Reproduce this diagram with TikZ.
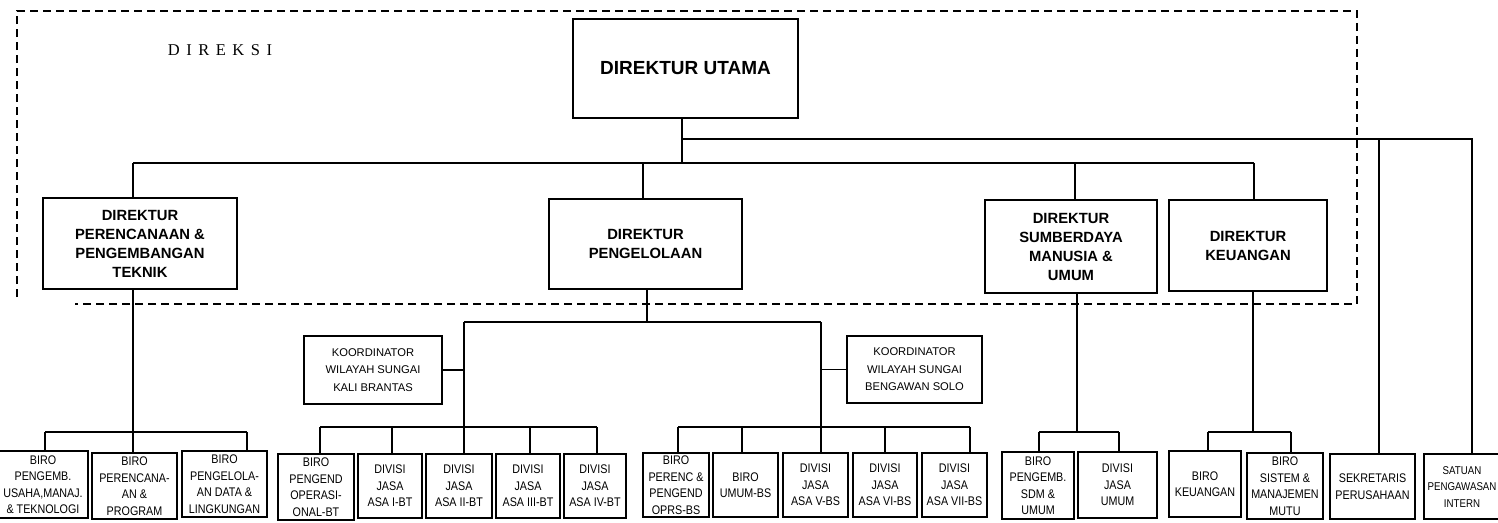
\documentclass[tikz,border=0pt]{standalone}
\usepackage{fontspec}
\setmainfont{Liberation Sans}
\newfontfamily\direksifont{Liberation Serif}
\newfontfamily\narrowfont[FakeStretch=0.86]{Liberation Sans}

% box given by its corners: name, style, x1, y1, x2, y2, text
\newcommand{\orgnode}[7]{%
  \node[#2, minimum width={(#5-#3)*1pt}, minimum height={(#6-#4)*1pt}]
    (#1) at ({(#3+#5)/2},{(#4+#6)/2}) {#7};}

\tikzset{
  orgbox/.style={draw, line width=1.4pt, inner sep=0pt, align=center},
  topbox/.style={orgbox, font=\fontsize{19pt}{23pt}\selectfont\bfseries},
  dirbox/.style={orgbox, font=\fontsize{14.8pt}{19pt}\selectfont\bfseries},
  koorbox/.style={orgbox, font=\fontsize{11.2pt}{17.5pt}\selectfont},
  unitfont/.style={font=\narrowfont\fontsize{12.5pt}{16.5pt}\selectfont},
  unitbox/.style={orgbox, unitfont},
  link/.style={line width=1.3pt},
  dashframe/.style={line width=1.4pt, dash pattern=on 8pt off 5pt}
}

\begin{document}
\begin{tikzpicture}[x=1pt, y=-1pt]
\useasboundingbox (0,0) rectangle (1498,522);
\begin{scope}
\clip (0,0) rectangle (1498,522);

% board of directors frame
\draw[dashframe] (17,297) -- (17,11) -- (1357,11) -- (1357,304) -- (75,304);
\node[font=\direksifont\fontsize{16.5pt}{20pt}\selectfont] (direksi) at (220,50)
  {D\hspace{6.5pt}I\hspace{6.5pt}R\hspace{6.5pt}E\hspace{6.5pt}K\hspace{6.5pt}S\hspace{6.5pt}I};

% directors
\orgnode{du}{topbox}{573}{19}{798}{118}{DIREKTUR UTAMA}
\orgnode{dp}{dirbox}{43}{198}{237}{289}{DIREKTUR\\PERENCANAAN \&\\PENGEMBANGAN\\TEKNIK}
\orgnode{dpl}{dirbox}{549}{199}{742}{289}{DIREKTUR\\PENGELOLAAN}
\orgnode{dsdm}{dirbox}{985}{200}{1157}{293}{DIREKTUR\\SUMBERDAYA\\MANUSIA \&\\UMUM}
\orgnode{dk}{dirbox}{1169}{200}{1327}{291}{DIREKTUR\\KEUANGAN}

% river basin coordinators
\orgnode{kb}{koorbox}{304}{336}{442}{404}{KOORDINATOR\\WILAYAH SUNGAI\\KALI BRANTAS}
\orgnode{kbs}{koorbox}{847}{336}{982}{403}{KOORDINATOR\\WILAYAH SUNGAI\\BENGAWAN SOLO}

% bureaus and divisions
\orgnode{b1}{unitbox}{-2}{451}{88}{518}{BIRO\\PENGEMB.\\USAHA,MANAJ.\\\& TEKNOLOGI}
\orgnode{b2}{unitbox}{92}{453}{177}{519}{BIRO\\PERENCANA-\\AN \&\\PROGRAM}
\orgnode{b3}{unitbox}{182}{451}{267}{517}{BIRO\\PENGELOLA-\\AN DATA \&\\LINGKUNGAN}
\orgnode{b4}{unitbox}{278}{454}{354}{520}{BIRO\\PENGEND\\OPERASI-\\ONAL-BT}
\orgnode{b5}{unitbox}{358}{454}{422}{518}{DIVISI\\JASA\\ASA I-BT}
\orgnode{b6}{unitbox}{426}{454}{492}{518}{DIVISI\\JASA\\ASA II-BT}
\orgnode{b7}{unitbox}{496}{454}{560}{518}{DIVISI\\JASA\\ASA III-BT}
\orgnode{b8}{unitbox}{564}{454}{626}{518}{DIVISI\\JASA\\ASA IV-BT}
\orgnode{b9}{unitbox}{643}{453}{709}{517}{BIRO\\PERENC \&\\PENGEND\\OPRS-BS}
\orgnode{b10}{unitbox}{713}{453}{778}{517}{BIRO\\UMUM-BS}
\orgnode{b11}{unitbox}{783}{453}{848}{517}{DIVISI\\JASA\\ASA V-BS}
\orgnode{b12}{unitbox}{853}{453}{917}{517}{DIVISI\\JASA\\ASA VI-BS}
\orgnode{b13}{unitbox}{922}{453}{987}{517}{DIVISI\\JASA\\ASA VII-BS}
\orgnode{b14}{unitbox}{1002}{452}{1074}{519}{BIRO\\PENGEMB.\\SDM \&\\UMUM}
\orgnode{b15}{unitbox}{1078}{452}{1157}{518}{DIVISI\\JASA\\UMUM}
\orgnode{b16}{unitbox}{1169}{451}{1241}{517}{BIRO\\KEUANGAN}
\orgnode{b17}{unitbox}{1247}{453}{1323}{519}{BIRO\\SISTEM \&\\MANAJEMEN\\MUTU}
\orgnode{sek}{unitbox}{1330}{454}{1415}{519}{SEKRETARIS\\PERUSAHAAN}
% internal audit unit: its box runs past the right margin
\orgnode{sat}{unitbox}{1424}{454}{1512}{519}{}
\node[font=\narrowfont\fontsize{11.3pt}{16.5pt}\selectfont, align=center, inner sep=0pt]
  (satText) at (1462,487) {SATUAN\\PENGAWASAN\\INTERN};

% junction points
\coordinate (jTop) at (682,139);
\coordinate (jMain) at (682,163);
\coordinate (sekT) at (1379,139);
\coordinate (satT) at (1472,139);
\coordinate (mL) at (133,163);
\coordinate (mP) at (643,163);
\coordinate (mS) at (1075,163);
\coordinate (mR) at (1254,163);

% top level
\draw[link] (du.south -| jMain) -- (jMain);
\draw[link] (jTop) -- (satT) -- (satT |- sat.north);
\draw[link] (sekT) -- (sekT |- sek.north);
\draw[link] (mL) -- (mR);
\draw[link] (mL) -- (mL |- dp.north);
\draw[link] (mP) -- (mP |- dpl.north);
\draw[link] (mS) -- (mS |- dsdm.north);
\draw[link] (mR) -- (mR |- dk.north);

% planning and engineering
\coordinate (pa) at (45,432);
\coordinate (pb) at (133,432);
\coordinate (pc) at (247,432);
\draw[link] (dp.south -| pb) -- (pb);
\draw[link] (pa) -- (pc);
\draw[link] (pa) -- (pa |- b1.north);
\draw[link] (pb) -- (pb |- b2.north);
\draw[link] (pc) -- (pc |- b3.north);

% operations
\coordinate (gT) at (647,322);
\coordinate (gL) at (464,322);
\coordinate (gR) at (821,322);
\draw[link] (dpl.south -| gT) -- (gT);
\draw[link] (gL) -- (gR);
\draw[link] (gL) -- (gL |- b6.north);
\draw[link] (gR) -- (gR |- b11.north);
\draw[link] (kb.east) -- (kb.east -| gL);
\draw[link] (kbs.west) -- (kbs.west -| gR);

% Brantas units
\coordinate (t1) at (320,427);
\coordinate (t2) at (392,427);
\coordinate (t4) at (530,427);
\coordinate (t5) at (597,427);
\draw[link] (t1) -- (t5);
\draw[link] (t1) -- (t1 |- b4.north);
\draw[link] (t2) -- (t2 |- b5.north);
\draw[link] (t4) -- (t4 |- b7.north);
\draw[link] (t5) -- (t5 |- b8.north);

% Bengawan Solo units
\coordinate (s1) at (678,427);
\coordinate (s2) at (742,427);
\coordinate (s4) at (885,427);
\coordinate (s5) at (970,427);
\draw[link] (s1) -- (s5);
\draw[link] (s1) -- (s1 |- b9.north);
\draw[link] (s2) -- (s2 |- b10.north);
\draw[link] (s4) -- (s4 |- b12.north);
\draw[link] (s5) -- (s5 |- b13.north);

% human resources
\coordinate (hB) at (1077,432);
\coordinate (hL) at (1039,432);
\coordinate (hR) at (1119,432);
\draw[link] (dsdm.south -| hB) -- (hB);
\draw[link] (hL) -- (hR);
\draw[link] (hL) -- (hL |- b14.north);
\draw[link] (hR) -- (hR |- b15.north);

% finance
\coordinate (kB) at (1253,432);
\coordinate (kL) at (1208,432);
\coordinate (kR) at (1291,432);
\draw[link] (dk.south -| kB) -- (kB);
\draw[link] (kL) -- (kR);
\draw[link] (kL) -- (kL |- b16.north);
\draw[link] (kR) -- (kR |- b17.north);
\end{scope}
\end{tikzpicture}
\end{document}
